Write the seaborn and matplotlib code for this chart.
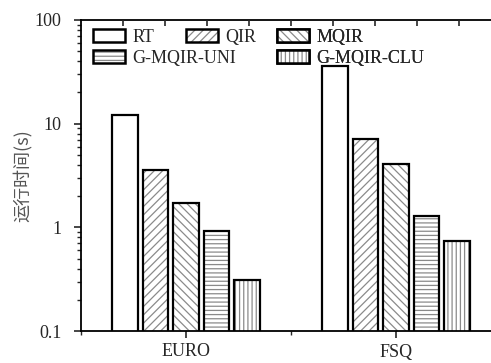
import matplotlib
matplotlib.use("Agg")
import matplotlib.pyplot as plt
import seaborn as sns
import pandas as pd
import numpy as np
from matplotlib.patches import Patch, Rectangle
from matplotlib.ticker import FixedLocator, FixedFormatter, LogLocator, NullFormatter

datasets = ["EURO", "FSQ"]
methods = ["RT", "QIR", "MQIR", "G-MQIR-UNI", "G-MQIR-CLU"]
euro_times = [12.0, 3.54, 1.70, 0.92, 0.31]
fsq_times = [36.0, 7.15, 4.05, 1.30, 0.74]
hatches = ["", "////", "\\\\\\\\", "----", "||||"]
ytick_vals = [0.1, 1, 10, 100]
ytick_labels = ["0.1", "1", "10", "100"]

sns.set_style("ticks")
plt.rcParams["font.family"] = ["Liberation Serif", "DejaVu Sans"]
plt.rcParams["hatch.color"] = "#8a8a8a"
plt.rcParams["hatch.linewidth"] = 0.9
plt.rcParams["axes.linewidth"] = 1.3

rows = []
for d, vals in zip(datasets, [euro_times, fsq_times]):
    for m, v in zip(methods, vals):
        rows.append({"dataset": d, "method": m, "time": v})
df = pd.DataFrame(rows)

W, H = 491, 363
fig = plt.figure(figsize=(W / 100, H / 100), dpi=100)
ax = fig.add_axes([81 / W, (H - 331) / H, 420 / W, (331 - 20) / H])

sns.barplot(data=df, x="dataset", y="time", hue="method", order=datasets,
            hue_order=methods, palette=["white"] * 5, width=0.725, gap=0.17,
            legend=False, ax=ax)

HATCH_GRAY = "#8a8a8a"
for cont, h in zip(ax.containers, hatches):
    for p in cont:
        p.set_facecolor("white")
        p.set_edgecolor(HATCH_GRAY)
        p.set_linewidth(0)
        p.set_hatch(h)
        outline = Rectangle(p.get_xy(), p.get_width(), p.get_height(), fill=False,
                            edgecolor="black", linewidth=1.6, zorder=p.get_zorder() + 0.1)
        ax.add_patch(outline)

ax.set_yscale("log")
ax.set_ylim(0.1, 100)
ax.set_xlim(-0.5, 1.5)
ax.yaxis.set_major_locator(FixedLocator(ytick_vals))
ax.yaxis.set_major_formatter(FixedFormatter(ytick_labels))
ax.yaxis.set_minor_locator(LogLocator(base=10, subs=np.arange(2, 10)))
ax.yaxis.set_minor_formatter(NullFormatter())
ax.xaxis.set_minor_locator(FixedLocator([-0.5, 0.5, 1.5]))

ax.tick_params(axis="y", which="major", direction="out", length=5, width=1.2, pad=9, labelsize=13)
ax.tick_params(axis="y", which="minor", direction="out", length=3, width=1.0)
ax.tick_params(axis="x", which="major", direction="out", length=5, width=1.2, pad=4, labelsize=13)
ax.tick_params(axis="x", which="minor", direction="out", length=3, width=1.0)

for s in ["left", "bottom", "top"]:
    ax.spines[s].set_visible(True)
    ax.spines[s].set_color("black")
ax.spines["right"].set_visible(False)

ax.set_xlabel("")
ax.set_ylabel("运行时间(s)", family=["Noto Sans CJK SC", "DejaVu Sans"], fontsize=13,
              color="#555555", labelpad=2)

top = ax.twiny()
top.set_xlim(ax.get_xlim())
top.set_xticks([-0.3, -0.1, 0.1, 0.3, 0.5, 0.7, 0.9, 1.1, 1.3])
top.tick_params(axis="x", direction="in", length=4, width=1.2, labeltop=False)
for s in top.spines.values():
    s.set_visible(False)

def handle(h):
    return (Patch(facecolor="white", edgecolor=HATCH_GRAY, linewidth=0, hatch=h),
            Patch(fill=False, edgecolor="black", linewidth=1.8))

cols = [([0, 3], 93), ([1], 186), ([2, 4], 277)]
for idx, xpx in cols:
    leg = ax.legend([handle(hatches[i]) for i in idx], [methods[i] for i in idx],
                    loc="upper left", bbox_to_anchor=(xpx / W, 1 - 29 / H),
                    bbox_transform=fig.transFigure, frameon=False, fontsize=13,
                    handlelength=1.75, handleheight=0.75, handletextpad=0.45,
                    labelspacing=0.2, borderpad=0, borderaxespad=0)
    ax.add_artist(leg)

fig.savefig("out.png", dpi=100)
